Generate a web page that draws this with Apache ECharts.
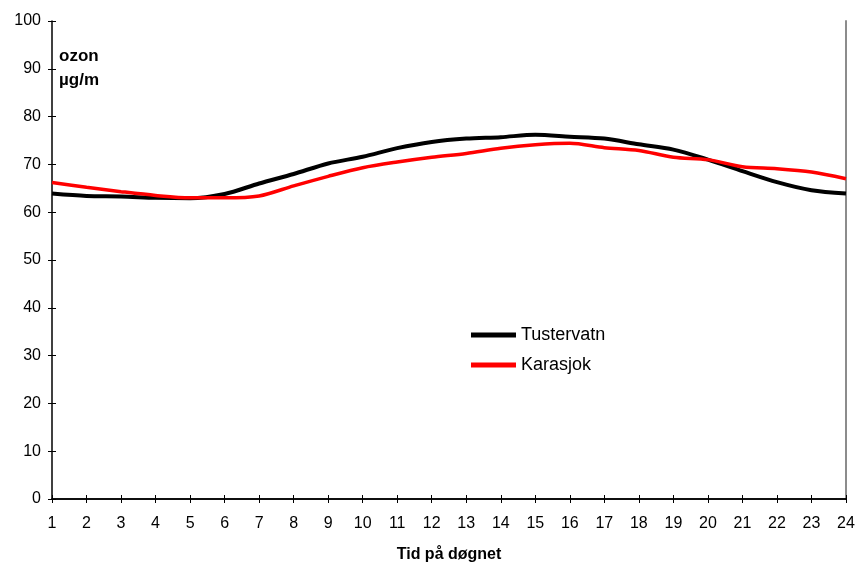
<!DOCTYPE html>
<html>
<head>
<meta charset="utf-8">
<script src="https://cdn.jsdelivr.net/npm/echarts@6/dist/echarts.min.js"></script>
<style>html,body{margin:0;padding:0;background:#fff;}#c{width:858px;height:564px;}</style>
</head>
<body>
<div id="c"></div>
<script>
var hours = ['1','2','3','4','5','6','7','8','9','10','11','12','13','14','15','16','17','18','19','20','21','22','23','24'];
var tustervatn = [63.9,63.4,63.3,63.0,62.9,63.8,66.0,68.0,70.2,71.6,73.4,74.7,75.4,75.7,76.2,75.8,75.4,74.2,73.1,71.0,68.6,66.3,64.6,63.9];
var karasjok = [66.2,65.2,64.3,63.5,63.0,63.0,63.4,65.5,67.5,69.3,70.5,71.5,72.3,73.4,74.1,74.4,73.5,72.9,71.5,71.0,69.5,69.1,68.4,67.0];
var yTicks = {min: 0, max: 100, interval: 10};
var seriesNames = ['Tustervatn', 'Karasjok'];

var chart = echarts.init(document.getElementById('c'));
var font = 'Liberation Sans, Arial, sans-serif';
chart.setOption({
  animation: false,
  grid: {left: 52, right: 12, top: 21, bottom: 65, containLabel: false, outerBoundsMode: 'none'},
  legend: {
    orient: 'vertical', left: 466, top: 321, itemWidth: 45, itemHeight: 5, itemGap: 12,
    icon: 'rect',
    data: seriesNames,
    textStyle: {fontFamily: font, fontSize: 18, color: '#000'}
  },
  graphic: [
    {type: 'text', left: 59, top: 48, style: {text: 'ozon', font: 'bold 17px ' + font, fill: '#000'}},
    {type: 'text', left: 59, top: 72, style: {text: 'µg/m', font: 'bold 17px ' + font, fill: '#000'}}
  ],
  xAxis: [
    {type: 'category', data: hours, boundaryGap: false, position: 'bottom',
     axisLine: {lineStyle: {color: '#000', width: 1.5}},
     axisTick: {show: true, length: 4, lineStyle: {color: '#000'}},
     axisLabel: {fontFamily: font, fontSize: 16, color: '#000', margin: 17},
     name: 'Tid på døgnet', nameLocation: 'middle', nameGap: 48,
     nameTextStyle: {fontFamily: font, fontSize: 16, fontWeight: 'bold', color: '#000'},
     splitLine: {show: false}},
    {type: 'category', data: hours, boundaryGap: false, position: 'bottom',
     axisLine: {show: false},
     axisTick: {show: true, inside: true, length: 4, lineStyle: {color: '#000'}},
     axisLabel: {show: false}, splitLine: {show: false}},
    {type: 'category', data: hours, boundaryGap: false, position: 'top',
     axisLine: {show: true, lineStyle: {color: '#000', width: 1.5}},
     axisTick: {show: false}, axisLabel: {show: false}, splitLine: {show: false}}
  ],
  yAxis: [
    {type: 'value', min: yTicks.min, max: yTicks.max, interval: yTicks.interval, position: 'left',
     axisLine: {show: true, lineStyle: {color: '#000', width: 1.5}},
     axisTick: {show: true, length: 4, lineStyle: {color: '#000'}},
     axisLabel: {fontFamily: font, fontSize: 16, color: '#000', margin: 11},
     splitLine: {show: false}},
    {type: 'value', min: yTicks.min, max: yTicks.max, interval: yTicks.interval, position: 'left',
     axisLine: {show: false},
     axisTick: {show: true, inside: true, length: 4, lineStyle: {color: '#000'}},
     axisLabel: {show: false}, splitLine: {show: false}},
    {type: 'value', min: yTicks.min, max: yTicks.max, interval: yTicks.interval, position: 'right',
     axisLine: {show: true, lineStyle: {color: '#8c8c8c', width: 2}},
     axisTick: {show: false}, axisLabel: {show: false}, splitLine: {show: false}}
  ],
  series: [
    {name: seriesNames[0], type: 'line', data: tustervatn, smooth: 0.3, showSymbol: false, symbol: 'none',
     itemStyle: {color: '#000'}, lineStyle: {color: '#000', width: 4}, z: 3},
    {name: seriesNames[1], type: 'line', data: karasjok, smooth: 0.3, showSymbol: false, symbol: 'none',
     itemStyle: {color: '#ff0000'}, lineStyle: {color: '#ff0000', width: 3.5}, z: 4}
  ]
});
</script>
</body>
</html>
